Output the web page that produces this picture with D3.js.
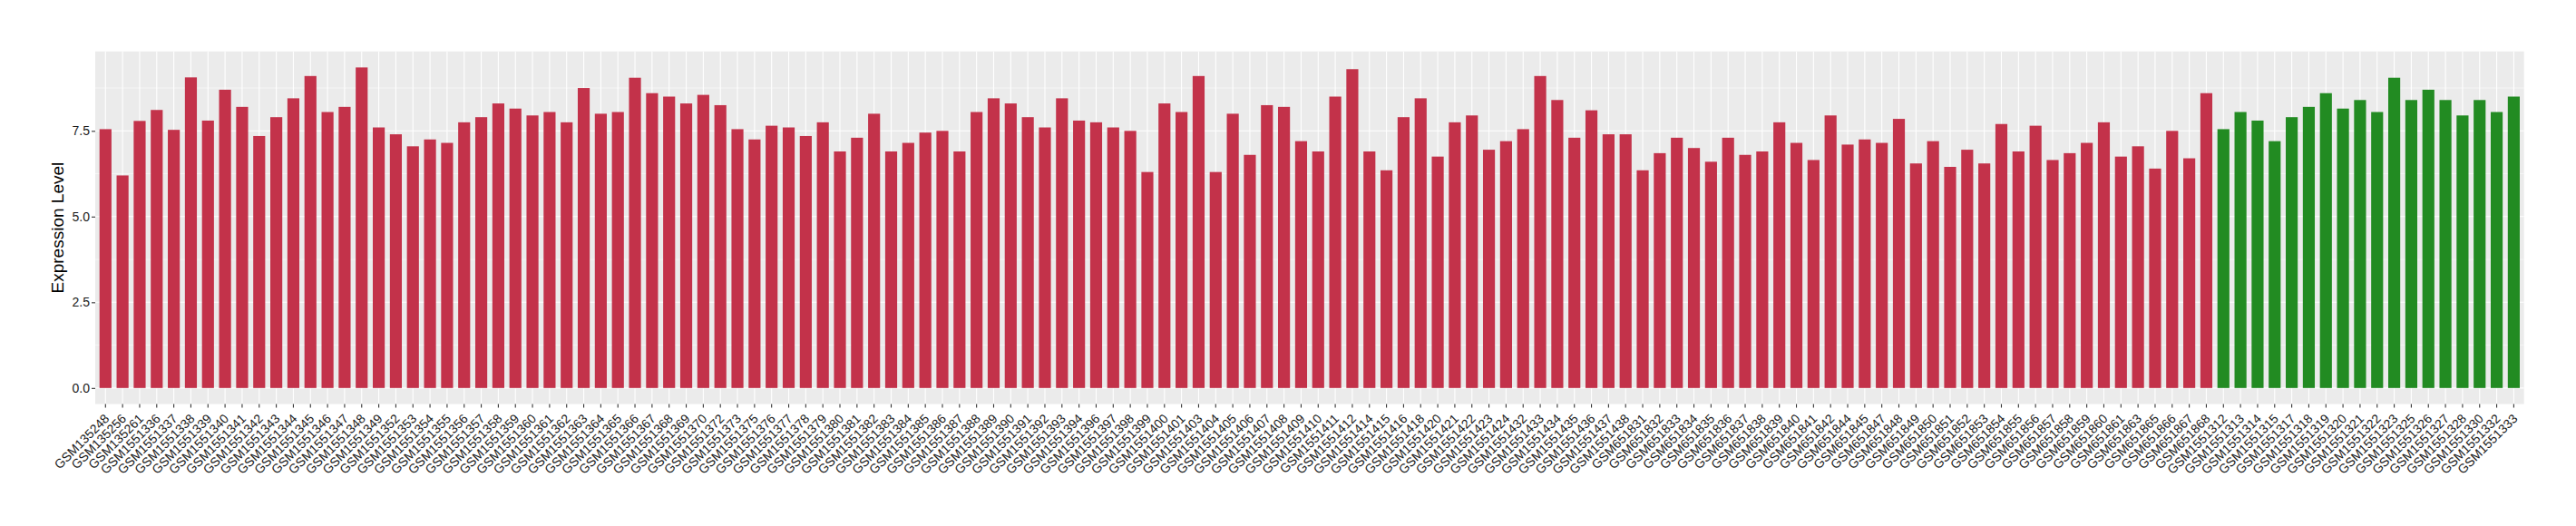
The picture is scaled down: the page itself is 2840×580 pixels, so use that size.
<!DOCTYPE html>
<html>
<head>
<meta charset="utf-8">
<script src="https://cdn.jsdelivr.net/npm/d3@7/dist/d3.min.js"></script>
<style>
  html, body { margin: 0; padding: 0; background: #ffffff; }
  svg { display: block; }
</style>
</head>
<body>
<svg id="chart" width="2840" height="580"></svg>
<script>
// ---- data ----
const samplesA = [
  "GSM135248","GSM135256","GSM135261","GSM1551336","GSM1551337","GSM1551338","GSM1551339","GSM1551340",
  "GSM1551341","GSM1551342","GSM1551343","GSM1551344","GSM1551345","GSM1551346","GSM1551347","GSM1551348",
  "GSM1551349","GSM1551352","GSM1551353","GSM1551354","GSM1551355","GSM1551356","GSM1551357","GSM1551358",
  "GSM1551359","GSM1551360","GSM1551361","GSM1551362","GSM1551363","GSM1551364","GSM1551365","GSM1551366",
  "GSM1551367","GSM1551368","GSM1551369","GSM1551370","GSM1551372","GSM1551373","GSM1551375","GSM1551376",
  "GSM1551377","GSM1551378","GSM1551379","GSM1551380","GSM1551381","GSM1551382","GSM1551383","GSM1551384",
  "GSM1551385","GSM1551386","GSM1551387","GSM1551388","GSM1551389","GSM1551390","GSM1551391","GSM1551392",
  "GSM1551393","GSM1551394","GSM1551396","GSM1551397","GSM1551398","GSM1551399","GSM1551400","GSM1551401",
  "GSM1551403","GSM1551404","GSM1551405","GSM1551406","GSM1551407","GSM1551408","GSM1551409","GSM1551410",
  "GSM1551411","GSM1551412","GSM1551414","GSM1551415","GSM1551416","GSM1551418","GSM1551420","GSM1551421",
  "GSM1551422","GSM1551423","GSM1551424","GSM1551432","GSM1551433","GSM1551434","GSM1551435","GSM1551436",
  "GSM1551437","GSM1551438","GSM651831","GSM651832","GSM651833","GSM651834","GSM651835","GSM651836",
  "GSM651837","GSM651838","GSM651839","GSM651840","GSM651841","GSM651842","GSM651844","GSM651845",
  "GSM651847","GSM651848","GSM651849","GSM651850","GSM651851","GSM651852","GSM651853","GSM651854",
  "GSM651855","GSM651856","GSM651857","GSM651858","GSM651859","GSM651860","GSM651861","GSM651863",
  "GSM651865","GSM651866","GSM651867","GSM651868"
];
const valuesA = [
  7.55,6.20,7.79,8.11,7.53,9.06,7.80,8.70,
  8.20,7.35,7.90,8.45,9.10,8.05,8.20,9.35,
  7.60,7.40,7.05,7.25,7.15,7.75,7.90,8.30,
  8.15,7.95,8.05,7.75,8.75,8.00,8.05,9.05,
  8.60,8.50,8.30,8.55,8.25,7.55,7.25,7.65,
  7.60,7.35,7.75,6.90,7.30,8.00,6.90,7.15,
  7.45,7.50,6.90,8.05,8.45,8.30,7.90,7.60,
  8.45,7.80,7.75,7.60,7.50,6.30,8.30,8.05,
  9.10,6.30,8.00,6.80,8.25,8.20,7.20,6.90,
  8.50,9.30,6.90,6.35,7.90,8.45,6.75,7.75,
  7.95,6.95,7.20,7.55,9.10,8.40,7.30,8.10,
  7.40,7.40,6.35,6.85,7.30,7.00,6.60,7.30,
  6.80,6.90,7.75,7.15,6.65,7.95,7.10,7.25,
  7.15,7.85,6.55,7.20,6.45,6.95,6.55,7.70,
  6.90,7.65,6.65,6.85,7.15,7.75,6.75,7.05,
  6.40,7.50,6.70,8.60
];
const samplesB = [
  "GSM1551312","GSM1551313","GSM1551314","GSM1551315","GSM1551317","GSM1551318","GSM1551319","GSM1551320",
  "GSM1551321","GSM1551322","GSM1551323","GSM1551325","GSM1551326","GSM1551327","GSM1551328","GSM1551330",
  "GSM1551332","GSM1551333"
];
const valuesB = [
  7.55,8.05,7.80,7.20,7.90,8.20,8.60,8.15,
  8.40,8.05,9.05,8.40,8.70,8.40,7.95,8.40,
  8.05,8.50
];
const yTicks = [0, 2.5, 5.0, 7.5];
const yMinorTicks = [1.25, 3.75, 6.25, 8.75];
const groupColors = { A: "#C3324A", B: "#228B22" };
const yTitle = "Expression Level";

// ---- build ----
const rows = samplesA.map((s, i) => ({ sample: s, value: valuesA[i], group: "A" }))
  .concat(samplesB.map((s, i) => ({ sample: s, value: valuesB[i], group: "B" })));

const panel = { left: 105, right: 2782.7, top: 56.7, bottom: 445.5 };
const svg = d3.select("#chart");

const x = d3.scaleBand()
  .domain(rows.map(d => d.sample))
  .range([panel.left, panel.right])
  .paddingInner(0.3)
  .paddingOuter(0.25);

const maxV = d3.max(rows, d => d.value);
const y = d3.scaleLinear()
  .domain([-0.05 * maxV, 1.05 * maxV])
  .range([panel.bottom, panel.top]);

// panel background
svg.append("rect")
  .attr("x", panel.left).attr("y", panel.top)
  .attr("width", panel.right - panel.left)
  .attr("height", panel.bottom - panel.top)
  .attr("fill", "#EBEBEB");

const grid = svg.append("g");
grid.selectAll("line.minor").data(yMinorTicks).enter().append("line")
  .attr("x1", panel.left).attr("x2", panel.right)
  .attr("y1", d => y(d)).attr("y2", d => y(d))
  .attr("stroke", "#ffffff").attr("stroke-width", 0.55);
grid.selectAll("line.major").data(yTicks).enter().append("line")
  .attr("x1", panel.left).attr("x2", panel.right)
  .attr("y1", d => y(d)).attr("y2", d => y(d))
  .attr("stroke", "#ffffff").attr("stroke-width", 1.1);
grid.selectAll("line.vx").data(rows).enter().append("line")
  .attr("x1", d => x(d.sample) + x.bandwidth() / 2)
  .attr("x2", d => x(d.sample) + x.bandwidth() / 2)
  .attr("y1", panel.top).attr("y2", panel.bottom)
  .attr("stroke", "#ffffff").attr("stroke-width", 1.1);

// bars
svg.append("g").selectAll("rect").data(rows).enter().append("rect")
  .attr("x", d => x(d.sample))
  .attr("width", x.bandwidth())
  .attr("y", d => y(d.value))
  .attr("height", d => y(0) - y(d.value))
  .attr("fill", d => groupColors[d.group]);

// y axis
const yAxis = d3.axisLeft(y).tickValues(yTicks).tickFormat(d3.format(".1f")).tickSize(4).tickPadding(2);
const gy = svg.append("g").attr("transform", `translate(${panel.left},0)`).call(yAxis);
gy.select(".domain").remove();
gy.selectAll(".tick line").attr("stroke", "#333333").attr("stroke-width", 1.1);
gy.selectAll(".tick text")
  .attr("fill", "#1a1a1a")
  .style("font-family", "'Liberation Sans', Arial, sans-serif")
  .style("font-size", "14px");

// x axis
const xAxis = d3.axisBottom(x).tickSize(4).tickPadding(2);
const gx = svg.append("g").attr("transform", `translate(0,${panel.bottom})`).call(xAxis);
gx.select(".domain").remove();
gx.selectAll(".tick line").attr("stroke", "#333333").attr("stroke-width", 1.1);
gx.selectAll(".tick text")
  .attr("fill", "#1a1a1a")
  .style("font-family", "'Liberation Sans', Arial, sans-serif")
  .style("font-size", "14px")
  .attr("text-anchor", "end")
  .attr("dy", null)
  .attr("y", null)
  .attr("transform", "translate(5,17) rotate(-45)");

// y title
svg.append("text")
  .attr("transform", `translate(70,${(panel.top + panel.bottom) / 2}) rotate(-90)`)
  .attr("text-anchor", "middle")
  .style("font-family", "'Liberation Sans', Arial, sans-serif")
  .style("font-size", "19px")
  .attr("fill", "#000000")
  .text(yTitle);
</script>
</body>
</html>
